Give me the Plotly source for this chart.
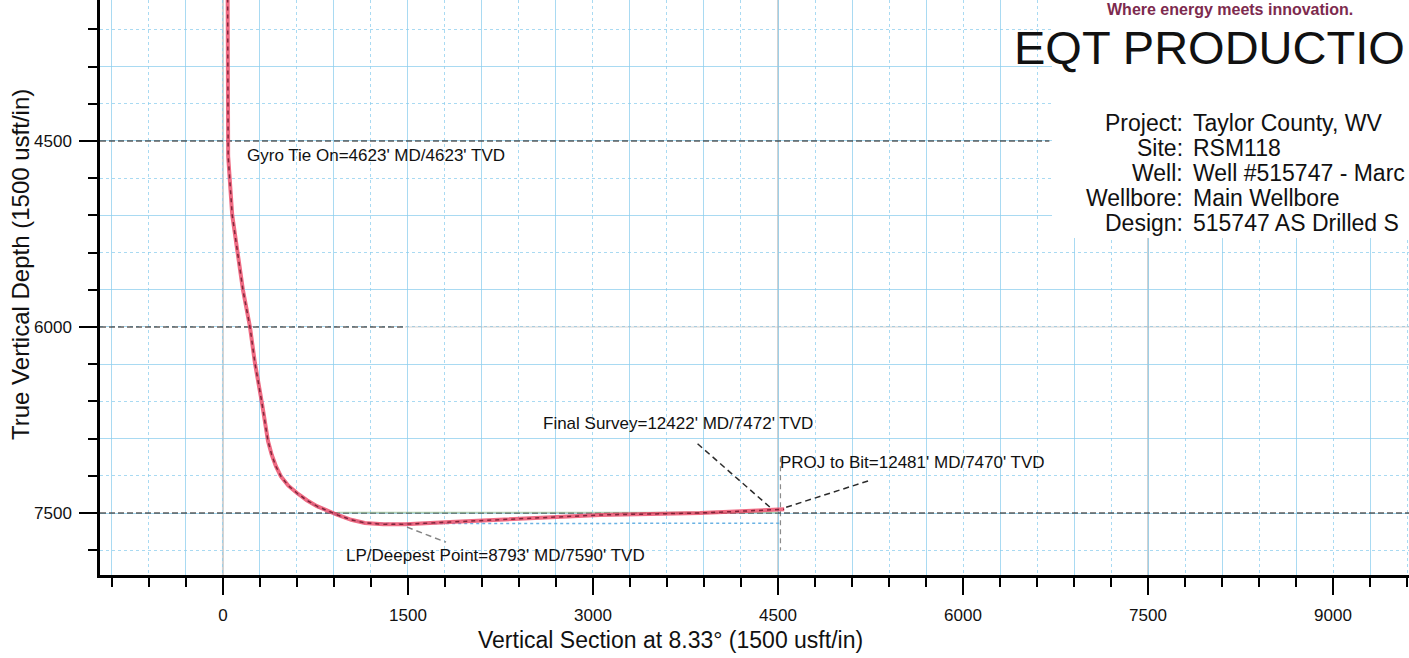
import plotly.graph_objects as go

# ---------------- data ----------------
# well path (vertical section vs true vertical depth)
vs_path = [38, 40, 42, 75, 162, 219, 259, 316, 340, 365, 395, 430, 470, 530, 600, 680,
           762, 850, 930, 1040, 1150, 1300, 1480, 1841, 2514, 3057, 3868, 4411, 4490, 4550]
tvd_path = [3350, 4500, 4623, 5097, 5702, 6000, 6290, 6613, 6780, 6920, 7030, 7125, 7205, 7280, 7339, 7397,
            7445, 7485, 7516, 7555, 7580, 7590, 7590, 7573, 7540, 7516, 7500, 7476, 7472, 7470]

# plan / landing line (blue)
vs_plan = [600, 762, 930, 1150, 1400, 2500, 3500, 4530]
tvd_plan = [7345, 7452, 7522, 7582, 7586, 7585, 7583, 7582]

# target line (pale green)
vs_target = [930, 4500]
tvd_target = [7495, 7495]

# annotated stations
ann_names = ["Gyro Tie On", "LP/Deepest Point", "Final Survey", "PROJ to Bit"]
ann_md = [4623, 8793, 12422, 12481]
ann_tvd = [4623, 7590, 7472, 7470]
ann_vs = [42, 1480, 4490, 4550]

# axes
x_range = [-997, 9616]
y_range = [8000, 3363]
major_step = 1500
minor_step = 300

# title block
tagline = "Where energy meets innovation."
company = "EQT PRODUCTIO"
block_labels = ["Project:", "Site:", "Well:", "Wellbore:", "Design:"]
block_values = ["Taylor County, WV", "RSM118", "Well #515747 - Marc", "Main Wellbore", "515747 AS Drilled S"]

x_title = "Vertical Section at 8.33\u00b0 (1500 usft/in)"
y_title = "True Vertical Depth (1500 usft/in)"

# ---------------- figure ----------------
W, H = 1409, 658
ML, MB = 100, 83
PW, PH = W - ML, H - MB

def px_x(p):  # pixel -> paper x
    return (p - ML) / PW

def px_y(p):  # pixel (from top) -> paper y
    return (PH - p) / PH

FONT = "Liberation Sans, Arial, sans-serif"
BLUE = "rgba(140,205,238,0.75)"
BLUE_DOT = "rgba(140,205,238,0.75)"

fig = go.Figure()

# invisible trace to build the overlay grid subplot
fig.add_trace(go.Scatter(x=[None], y=[None], xaxis="x2", yaxis="y2",
                         showlegend=False, hoverinfo="skip"))

fig.add_trace(go.Scatter(x=vs_target, y=tvd_target, mode="lines",
                         line=dict(color="rgba(150,190,150,0.7)", width=1.5),
                         showlegend=False, hoverinfo="skip"))
fig.add_trace(go.Scatter(x=vs_plan, y=tvd_plan, mode="lines",
                         line=dict(color="rgba(90,170,225,0.9)", width=1.5, dash="dot"),
                         showlegend=False))
fig.add_trace(go.Scatter(x=vs_path, y=tvd_path, mode="lines",
                         line=dict(color="rgba(235,70,100,0.8)", width=4),
                         showlegend=False))
fig.add_trace(go.Scatter(x=vs_path, y=tvd_path, mode="lines",
                         line=dict(color="rgba(95,15,35,0.75)", width=1.5, dash="4px,4px"),
                         showlegend=False, hoverinfo="skip"))

shapes = []
# white area behind the title block
shapes.append(dict(type="rect", xref="paper", yref="paper",
                   x0=px_x(1052), x1=1.0, y0=px_y(238), y1=1.02,
                   fillcolor="white", line=dict(width=0), layer="above"))
# faint scanned major lines
for v in [0, 4500, 7500]:
    shapes.append(dict(type="line", xref="x", yref="paper", x0=v, x1=v, y0=0, y1=1,
                       line=dict(color="rgba(165,165,165,0.5)", width=2), layer="between"))
shapes.append(dict(type="line", xref="x", yref="y", x0=1475, x1=x_range[1], y0=6000, y1=6000,
                   line=dict(color="rgba(170,170,170,0.35)", width=1.5), layer="between"))
# dark dashed horizontal lines at major depths
dash_ends = [6700, 1475, x_range[1]]
for t, e in zip([4500, 6000, 7500], dash_ends):
    shapes.append(dict(type="line", xref="x", yref="y", x0=x_range[0], x1=e, y0=t, y1=t,
                       line=dict(color="rgba(40,40,40,0.75)", width=1.3, dash="6px,3px"),
                       layer="between"))
# vertical dashed at the end of section
shapes.append(dict(type="line", xref="x", yref="y", x0=ann_vs[3] - 30, x1=ann_vs[3] - 30,
                   y0=7050, y1=7800,
                   line=dict(color="rgba(90,90,90,0.7)", width=1.2, dash="5px,4px")))

# leader lines (pixel offsets from the annotated stations)
leaders = [None,
           (1.5, 40.5, -3, -18, "rgba(120,120,120,0.9)"),
           (-7, -80, 2.5, 66.5, "rgba(20,20,20,0.9)"),
           (2, 86, 2, 29, "rgba(20,20,20,0.9)")]
for i, ld in enumerate(leaders):
    if ld is None:
        continue
    dx0, dx1, dy0, dy1, col = ld
    shapes.append(dict(type="line", xref="x", yref="y", xsizemode="pixel", ysizemode="pixel",
                       xanchor=ann_vs[i], yanchor=ann_tvd[i], x0=dx0, x1=dx1, y0=dy0, y1=dy1,
                       line=dict(color=col, width=1.5, dash="6px,4px")))

annotations = []
ann_pos = [  # xanchor, xshift, yshift
    ("left", 17, 1),
    ("center", 89.5, -31),
    ("center", -98.7, 86.5),
    ("left", -6, 47),
]
for i, (xa, xs, ys) in enumerate(ann_pos):
    annotations.append(dict(x=ann_vs[i], y=ann_tvd[i], xref="x", yref="y",
                            text=f"{ann_names[i]}={ann_md[i]}' MD/{ann_tvd[i]}' TVD",
                            showarrow=False, xanchor=xa, yanchor="middle",
                            xshift=xs, yshift=ys,
                            font=dict(family=FONT, size=17, color="#111")))

# axis titles
annotations.append(dict(x=px_x(670), y=px_y(640), xref="paper", yref="paper", text=x_title,
                        showarrow=False, xanchor="center", yanchor="middle",
                        font=dict(family=FONT, size=23, color="#111")))
annotations.append(dict(x=px_x(20), y=px_y(265), xref="paper", yref="paper", text=y_title,
                        showarrow=False, xanchor="center", yanchor="middle", textangle=-90,
                        font=dict(family=FONT, size=24, color="#111")))

# title block
annotations.append(dict(x=px_x(1230), y=px_y(9), xref="paper", yref="paper",
                        text=f"<b>{tagline}</b>", showarrow=False,
                        xanchor="center", yanchor="middle",
                        font=dict(family=FONT, size=16, color="#7d2a4e")))
annotations.append(dict(x=px_x(1012), y=px_y(47), xref="paper", yref="paper",
                        text=company, showarrow=False, xanchor="left", yanchor="middle",
                        font=dict(family=FONT, size=47, color="#111")))
row_y = [123, 148, 173, 198, 223]
for lab, val, ry in zip(block_labels, block_values, row_y):
    annotations.append(dict(x=px_x(1185), y=px_y(ry), xref="paper", yref="paper",
                            text=lab, showarrow=False, xanchor="right", yanchor="middle",
                            font=dict(family=FONT, size=23, color="#111")))
    annotations.append(dict(x=px_x(1191), y=px_y(ry), xref="paper", yref="paper",
                            text=val, showarrow=False, xanchor="left", yanchor="middle",
                            font=dict(family=FONT, size=23, color="#111")))

axis_common = dict(showgrid=False, zeroline=False, showline=True, linecolor="black",
                   linewidth=2.5, ticks="outside", tickcolor="black", tickwidth=2,
                   tick0=0, dtick=major_step,
                   tickfont=dict(family=FONT, size=17, color="#111"),
                   minor=dict(dtick=minor_step, ticks="outside", ticklen=9,
                              tickwidth=1.5, tickcolor="black", showgrid=False))

fig.update_layout(
    width=W, height=H,
    margin=dict(l=ML, r=0, t=0, b=MB, pad=0),
    paper_bgcolor="white", plot_bgcolor="white",
    showlegend=False,
    font=dict(family=FONT),
    xaxis=dict(range=x_range, ticklen=17, ticklabelstandoff=6, layer="above traces",
               **axis_common),
    yaxis=dict(range=y_range, ticklen=18, ticklabelstandoff=4, layer="above traces",
               **axis_common),
    xaxis2=dict(range=x_range, overlaying="x", anchor="y", showline=False, zeroline=False,
                showticklabels=False, ticks="", tick0=minor_step, dtick=2 * minor_step,
                showgrid=True, gridcolor=BLUE, gridwidth=1.3,
                minor=dict(dtick=minor_step, showgrid=True, gridcolor=BLUE_DOT,
                           gridwidth=1.0, griddash="dot", ticks="")),
    yaxis2=dict(range=y_range, overlaying="y", anchor="x", side="left", showline=False,
                zeroline=False, showticklabels=False, ticks="", tick0=minor_step,
                dtick=2 * minor_step, showgrid=True, gridcolor=BLUE, gridwidth=1.3,
                minor=dict(dtick=minor_step, showgrid=True, gridcolor=BLUE_DOT,
                           gridwidth=1.0, griddash="dot", ticks="")),
    shapes=shapes,
    annotations=annotations,
)

fig.write_html("out.html", config={"displayModeBar": False},
               post_script="document.body.style.margin='0';document.body.style.overflow='hidden';")
